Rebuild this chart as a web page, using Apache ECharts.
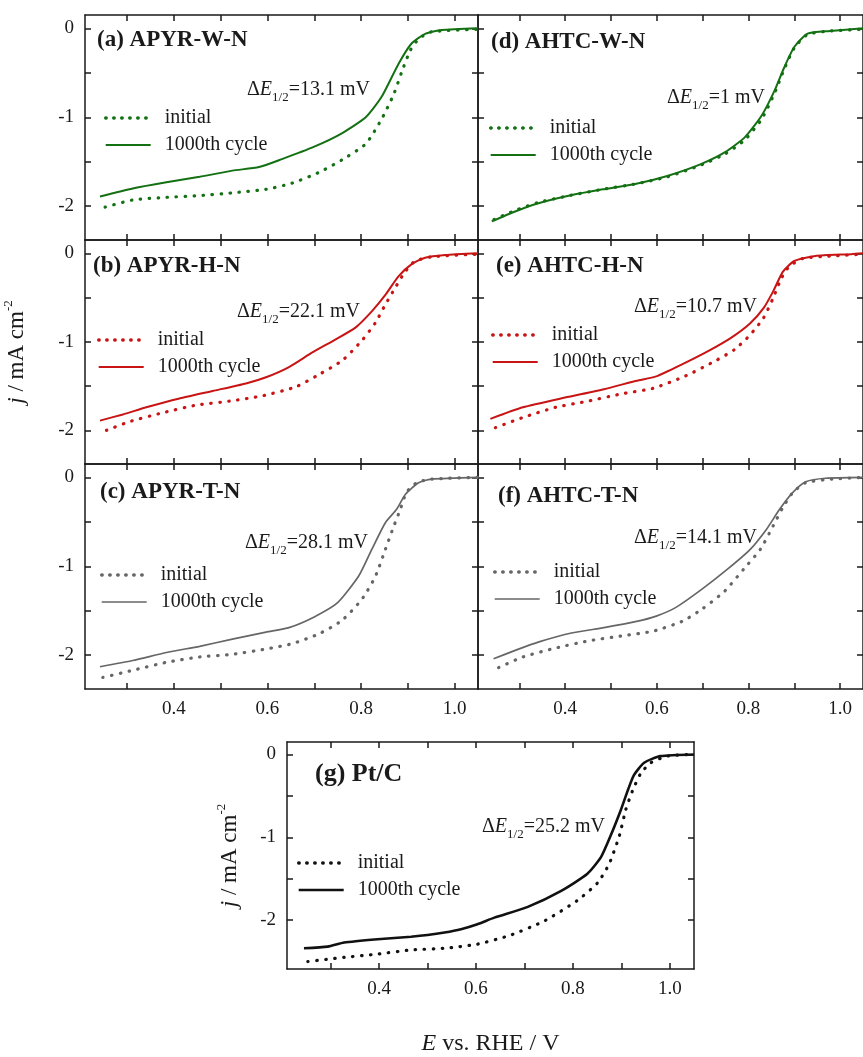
<!DOCTYPE html>
<html><head><meta charset="utf-8">
<script src="https://cdn.jsdelivr.net/npm/echarts@6/dist/echarts.min.js"></script>
<style>html,body{margin:0;padding:0;background:#fff}#c{width:863px;height:1057px}</style>
</head><body><div id="c"></div>
<script>
// ---- data ----
const xTickValues = [0.3,0.4,0.5,0.6,0.7,0.8,0.9,1.0];
const xLabelValues = [0.4,0.6,0.8,1.0];
const yTickValues = [-2,-1.5,-1,-0.5,0];
const yLabelValues = [-2,-1,0];

const aInitial = [[0.253,-2.01],[0.312,-1.93],[0.384,-1.90],[0.455,-1.88],[0.525,-1.85],[0.597,-1.81],[0.653,-1.74],[0.71,-1.62],[0.759,-1.48],[0.81,-1.30],[0.844,-1.02],[0.87,-0.74],[0.887,-0.49],[0.905,-0.25],[0.923,-0.12],[0.95,-0.04],[1.05,-0.01]];
const aCycle = [[0.242,-1.89],[0.312,-1.80],[0.384,-1.73],[0.455,-1.67],[0.525,-1.60],[0.582,-1.56],[0.631,-1.47],[0.70,-1.33],[0.759,-1.18],[0.81,-1.0],[0.844,-0.77],[0.88,-0.40],[0.908,-0.17],[0.938,-0.06],[0.972,-0.02],[1.05,0]];
const bInitial = [[0.256,-2.00],[0.306,-1.90],[0.377,-1.80],[0.448,-1.715],[0.519,-1.67],[0.589,-1.61],[0.66,-1.51],[0.71,-1.37],[0.76,-1.21],[0.802,-0.985],[0.83,-0.79],[0.852,-0.58],[0.873,-0.39],[0.894,-0.21],[0.915,-0.09],[0.951,-0.04],[1.05,-0.01]];
const bCycle = [[0.242,-1.89],[0.291,-1.82],[0.341,-1.74],[0.412,-1.64],[0.483,-1.555],[0.554,-1.47],[0.597,-1.40],[0.646,-1.285],[0.696,-1.12],[0.745,-0.975],[0.788,-0.84],[0.823,-0.656],[0.852,-0.47],[0.88,-0.26],[0.909,-0.12],[0.937,-0.05],[0.98,-0.02],[1.05,0]];
const cInitial = [[0.248,-2.25],[0.312,-2.17],[0.384,-2.08],[0.455,-2.02],[0.525,-1.99],[0.597,-1.93],[0.653,-1.87],[0.71,-1.76],[0.759,-1.61],[0.802,-1.37],[0.831,-1.11],[0.852,-0.81],[0.87,-0.55],[0.884,-0.36],[0.897,-0.17],[0.919,-0.06],[0.95,-0.02],[1.05,0]];
const cCycle = [[0.242,-2.13],[0.312,-2.06],[0.384,-1.97],[0.455,-1.90],[0.525,-1.82],[0.597,-1.74],[0.646,-1.69],[0.70,-1.57],[0.75,-1.41],[0.795,-1.11],[0.823,-0.81],[0.852,-0.51],[0.876,-0.36],[0.895,-0.19],[0.923,-0.06],[0.95,-0.02],[1.05,0]];
const dInitial = [[0.245,-2.15],[0.29,-2.05],[0.34,-1.96],[0.41,-1.88],[0.482,-1.81],[0.553,-1.75],[0.623,-1.67],[0.695,-1.54],[0.75,-1.41],[0.793,-1.25],[0.829,-1.02],[0.857,-0.73],[0.878,-0.46],[0.90,-0.22],[0.929,-0.07],[0.978,-0.03],[1.05,-0.01]];
const dCycle = [[0.240,-2.17],[0.291,-2.06],[0.34,-1.97],[0.41,-1.88],[0.482,-1.81],[0.553,-1.75],[0.623,-1.66],[0.695,-1.53],[0.75,-1.39],[0.793,-1.22],[0.829,-0.98],[0.857,-0.70],[0.878,-0.44],[0.90,-0.21],[0.929,-0.06],[0.978,-0.03],[1.05,0]];
const eInitial = [[0.248,-1.97],[0.308,-1.855],[0.379,-1.74],[0.45,-1.67],[0.521,-1.59],[0.592,-1.525],[0.663,-1.385],[0.726,-1.22],[0.769,-1.09],[0.804,-0.92],[0.833,-0.73],[0.854,-0.505],[0.872,-0.28],[0.889,-0.15],[0.918,-0.06],[0.982,-0.03],[1.05,-0.01]];
const eCycle = [[0.237,-1.87],[0.308,-1.74],[0.40,-1.63],[0.485,-1.535],[0.556,-1.44],[0.599,-1.39],[0.655,-1.255],[0.712,-1.105],[0.762,-0.955],[0.804,-0.79],[0.833,-0.62],[0.854,-0.43],[0.875,-0.21],[0.90,-0.087],[0.946,-0.03],[1.024,-0.01],[1.05,0]];
const fInitial = [[0.255,-2.14],[0.308,-2.02],[0.379,-1.92],[0.45,-1.84],[0.521,-1.785],[0.592,-1.73],[0.655,-1.62],[0.698,-1.485],[0.748,-1.28],[0.79,-1.03],[0.826,-0.81],[0.854,-0.545],[0.875,-0.34],[0.897,-0.17],[0.925,-0.06],[0.982,-0.02],[1.05,0]];
const fCycle = [[0.244,-2.04],[0.294,-1.94],[0.343,-1.85],[0.414,-1.75],[0.485,-1.69],[0.556,-1.62],[0.599,-1.56],[0.641,-1.465],[0.698,-1.26],[0.755,-1.03],[0.804,-0.81],[0.84,-0.58],[0.868,-0.36],[0.897,-0.17],[0.925,-0.05],[0.968,-0.01],[1.05,0]];
const gInitial = [[0.253,-2.50],[0.328,-2.45],[0.397,-2.41],[0.466,-2.36],[0.535,-2.34],[0.603,-2.29],[0.672,-2.18],[0.741,-2.01],[0.81,-1.76],[0.851,-1.55],[0.875,-1.32],[0.896,-0.98],[0.909,-0.67],[0.923,-0.44],[0.94,-0.23],[0.961,-0.10],[0.995,-0.02],[1.05,0]];
const gCycle = [[0.245,-2.34],[0.294,-2.32],[0.328,-2.27],[0.397,-2.23],[0.466,-2.20],[0.50,-2.18],[0.535,-2.15],[0.569,-2.11],[0.603,-2.05],[0.638,-1.97],[0.707,-1.84],[0.775,-1.65],[0.83,-1.44],[0.858,-1.24],[0.878,-0.98],[0.899,-0.67],[0.913,-0.44],[0.926,-0.25],[0.947,-0.10],[0.981,-0.02],[1.05,0]];

const panelLabels = ['(a) APYR-W-N','(b) APYR-H-N','(c) APYR-T-N','(d) AHTC-W-N','(e) AHTC-H-N','(f) AHTC-T-N','(g) Pt/C'];
const deltaE = ['13.1','22.1','28.1','1','10.7','14.1','25.2'];
const seriesNames = ['initial','1000th cycle'];

// ---- layout / style ----
const FF = 'Liberation Serif';
const INK = '#1a1a1a';
const panels = [
  {key:'a', ini:aInitial, cyc:aCycle, color:'#137013', grid:{left:85,top:15,width:393,height:225}, yMin:-2.38, showX:false, showY:true,
   title:[97,29,23], dE:[247,76], leg:[104,108]},
  {key:'b', ini:bInitial, cyc:bCycle, color:'#c81414', grid:{left:85,top:240,width:393,height:224}, yMin:-2.38, showX:false, showY:true,
   title:[93,255,23], dE:[237,298], leg:[97,330]},
  {key:'c', ini:cInitial, cyc:cCycle, color:'#666666', grid:{left:85,top:464,width:393,height:225}, yMin:-2.38, showX:true, showY:true,
   title:[100,481,23], dE:[245,529], leg:[100,565]},
  {key:'d', ini:dInitial, cyc:dCycle, color:'#137013', grid:{left:478,top:15,width:393,height:225}, yMin:-2.38, showX:false, showY:false,
   title:[491,31,23], dE:[667,84], leg:[489,118]},
  {key:'e', ini:eInitial, cyc:eCycle, color:'#c81414', grid:{left:478,top:240,width:393,height:224}, yMin:-2.38, showX:false, showY:false,
   title:[496,255,23], dE:[634,293], leg:[491,325]},
  {key:'f', ini:fInitial, cyc:fCycle, color:'#666666', grid:{left:478,top:464,width:393,height:225}, yMin:-2.38, showX:true, showY:false,
   title:[498,485,23], dE:[634,524], leg:[493,562]},
  {key:'g', ini:gInitial, cyc:gCycle, color:'#111111', grid:{left:287,top:742,width:407,height:238}, yMin:-2.59, showX:true, showY:true,
   title:[315,761,26], dE:[482,813], leg:[297,853]}
];

const grids=[], xAxes=[], yAxes=[], series=[], titles=[], legends=[];
const axLine = {show:true, onZero:false, lineStyle:{color:INK, width:1.5}};
const labStyle = {fontFamily:FF, fontSize:19, color:INK};
const dotType = [0.5,8.5];

panels.forEach((p,i)=>{
  grids.push(Object.assign({containLabel:false}, p.grid));
  ['bottom','top'].forEach((pos,k)=>{
    xAxes.push({type:'value', gridIndex:i, position:pos, min:0.21, max:1.05,
      axisLine:axLine,
      axisTick:{show:true, inside:true, length:6, customValues:xTickValues, lineStyle:{color:INK,width:1.5}},
      axisLabel:Object.assign({show: k===0 && p.showX, customValues:xLabelValues, margin:11,
        formatter:v=>Number(v).toFixed(1)}, labStyle),
      splitLine:{show:false}});
  });
  ['left','right'].forEach((pos,k)=>{
    yAxes.push({type:'value', gridIndex:i, position:pos, min:p.yMin, max:0.15,
      axisLine:axLine,
      axisTick:{show:true, inside:true, length:6, customValues:yTickValues, lineStyle:{color:INK,width:1.5}},
      axisLabel:Object.assign({show: k===0 && p.showY, customValues:yLabelValues, margin:11}, labStyle),
      splitLine:{show:false}});
  });
  const nIni = p.key+'|'+seriesNames[0], nCyc = p.key+'|'+seriesNames[1];
  const solidW = p.key==='g' ? 2.6 : (p.key==='c'||p.key==='f' ? 1.7 : 2);
  series.push({type:'line', name:nIni, xAxisIndex:2*i, yAxisIndex:2*i, data:p.ini, symbol:'none',
    smooth:0.2,
    lineStyle:{color:p.color, width:3.2, type:dotType, cap:'round'}, itemStyle:{color:p.color}, z:3});
  series.push({type:'line', name:nCyc, xAxisIndex:2*i, yAxisIndex:2*i, data:p.cyc, symbol:'none',
    smooth:0.2,
    lineStyle:{color:p.color, width:solidW}, itemStyle:{color:p.color}, z:4});
  titles.push({text:panelLabels[i], left:p.title[0], top:p.title[1], padding:0,
    textStyle:{fontFamily:FF, fontWeight:'bold', fontSize:p.title[2], color:INK}});
  titles.push({text:'{d|Δ}{e|E}{s|1/2}{n|='+deltaE[i]+' mV}', left:p.dE[0], top:p.dE[1], padding:0,
    textStyle:{fontFamily:FF, fontSize:20, color:INK, fontWeight:'normal',
      rich:{d:{fontFamily:FF,fontSize:20,color:INK}, e:{fontFamily:FF,fontSize:20,fontStyle:'italic',color:INK},
            s:{fontFamily:FF,fontSize:13,color:INK,padding:[15,0,0,0]}, n:{fontFamily:FF,fontSize:20,color:INK}}}});
  legends.push({data:[
      {name:nIni, lineStyle:{color:p.color, width:3.4, type:[0.5,7.5], cap:'round'}},
      {name:nCyc, lineStyle:{color:p.color, width:solidW}}],
    orient:'vertical', left:p.leg[0], top:p.leg[1], padding:0,
    itemWidth:45, itemHeight:12, itemGap:7, selectedMode:false,
    itemStyle:{color:'rgba(0,0,0,0)', borderColor:'rgba(0,0,0,0)', borderWidth:0},
    formatter:n=>n.split('|')[1],
    textStyle:{fontFamily:FF, fontSize:20, color:INK, padding:[0,0,0,9]}});
});

// axis titles
const yName = '{i|j} / mA cm{sup|-2}';
const yRich = {i:{fontFamily:FF,fontSize:23,fontStyle:'italic',color:INK}, sup:{fontFamily:FF,fontSize:13,color:INK,padding:[0,0,16,0]}};
Object.assign(yAxes[2], {name:yName, nameLocation:'middle', nameGap:54, nameRotate:90,
  nameTextStyle:{fontFamily:FF,fontSize:23,color:INK,rich:yRich}});
Object.assign(yAxes[12], {name:yName, nameLocation:'middle', nameGap:43, nameRotate:90,
  nameTextStyle:{fontFamily:FF,fontSize:23,color:INK,rich:yRich}});
Object.assign(xAxes[12], {name:'{i|E} vs. RHE / V', nameLocation:'middle', nameGap:63,
  nameTextStyle:{fontFamily:FF,fontSize:24,color:INK,rich:{i:{fontFamily:FF,fontSize:24,fontStyle:'italic',color:INK}}}});

const chart = echarts.init(document.getElementById('c'), null, {renderer:'canvas'});
chart.setOption({
  animation:false, backgroundColor:'#fff',
  title:titles, legend:legends, grid:grids, xAxis:xAxes, yAxis:yAxes, series:series
});
</script></body></html>
